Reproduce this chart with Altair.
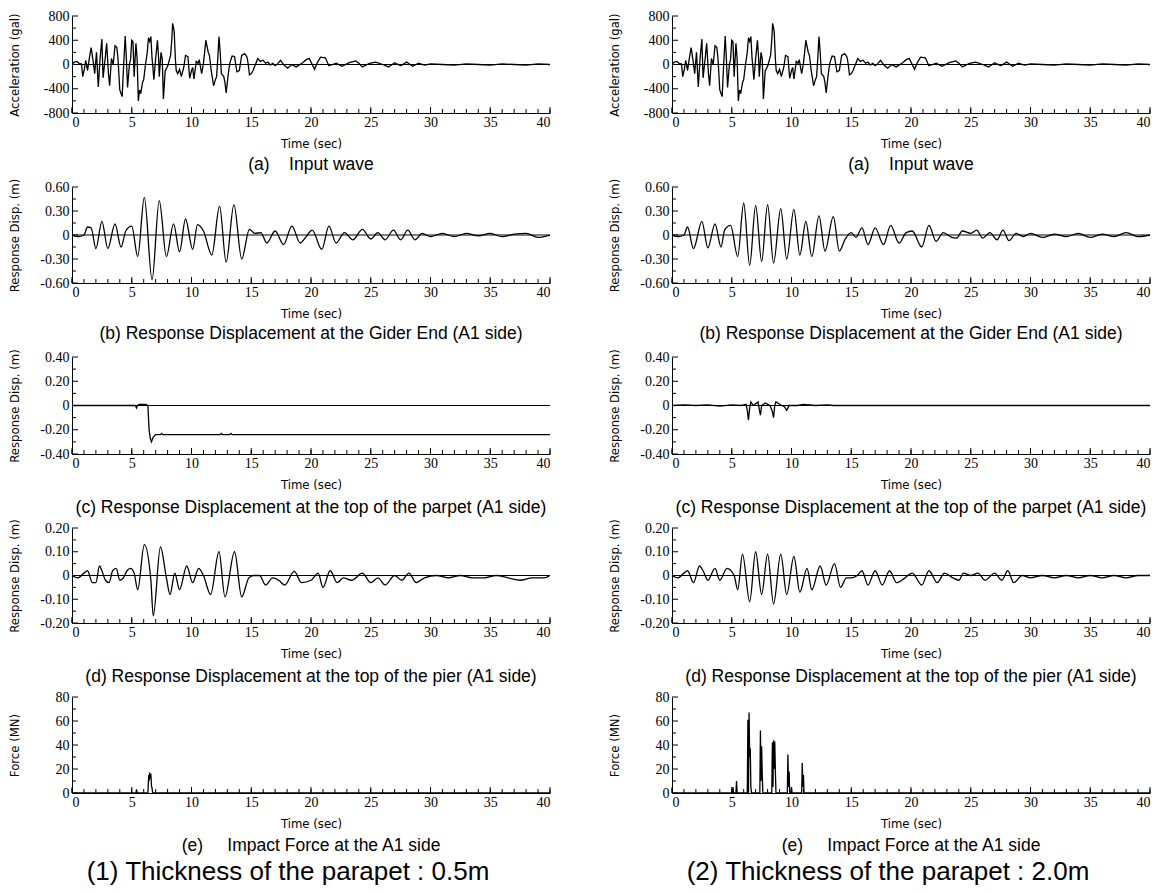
import altair as alt
import pandas as pd
import numpy as np

# ---------------- data ----------------
ACC_T = [0.0, 0.2, 0.4, 0.6, 0.8, 0.9, 1.05, 1.15, 1.3, 1.45, 1.6, 1.75, 1.9, 2.05, 2.2, 2.35, 2.5, 2.6, 2.75,
         2.9, 3.05, 3.15, 3.3, 3.45, 3.6, 3.75, 3.85, 4.0, 4.2, 4.3, 4.45, 4.55, 4.65, 4.8, 4.9, 5.0, 5.1, 5.2,
         5.35, 5.45, 5.55, 5.65, 5.75, 5.9, 6.0, 6.15, 6.3, 6.4, 6.5, 6.6, 6.7, 6.75, 6.85, 7.0, 7.15, 7.25, 7.3,
         7.45, 7.55, 7.65, 7.8, 7.95, 8.05, 8.25, 8.35, 8.42, 8.55, 8.65, 8.72, 8.85, 9.0, 9.15, 9.35, 9.5, 9.7,
         9.85, 10.0, 10.1, 10.2, 10.4, 10.55, 10.65, 10.85, 11.0, 11.15, 11.2, 11.4, 11.5, 11.65, 11.85, 12.0,
         12.1, 12.2, 12.3, 12.4, 12.5, 12.7, 12.8, 12.9, 13.05, 13.2, 13.4, 13.6, 13.7, 13.8, 14.0, 14.2, 14.45,
         14.65, 14.75, 14.85, 15.0, 15.15, 15.35, 15.55, 15.75, 16.0, 16.2, 16.4, 16.6, 16.8, 17.0, 17.2, 17.45,
         17.7, 18.05, 18.4, 18.75, 19.0, 19.3, 19.6, 19.85, 20.1, 20.3, 20.55, 20.8, 21.2, 21.5, 21.8, 22.1,
         22.6, 23.2, 23.75, 24.0, 24.3, 24.9, 25.4, 26.0, 26.5, 27.0, 27.5, 28.0, 28.5, 29.0, 29.5, 30.0, 31.0,
         32.0, 33.0, 34.0, 35.0, 36.0, 37.0, 38.0, 39.0, 40.0]
ACC_V = [0, 40, 50, 20, 10, -200, -60, 70, -100, 100, 280, 80, -150, 200, -370, 100, 420, -220, 50,
         350, -150, -350, 100, 0, 310, 280, 100, -420, -530, -100, 470, 100, -380, 0, 80, 400, 380, -200,
         350, 100, -600, -420, -480, -300, -250, 0, 200, 440, 380, 460, 100, 0, -250, 100, 400, 100, -200,
         200, 100, -570, -100, -50, 0, 150, 400, 680, 550, 100, -100, -150, -80, -200, -50, 150, 130,
         -230, -100, -50, -240, 50, 20, 80, -150, 20, 300, 400, 200, 150, -100, -350, -250,
         -200, 100, 460, 200, -150, -200, -300, -470, -200, 20, 140, 130, 0, -120, -100, 150, 180,
         120, 0, -170, -150, -100, 0, 100, 50, 70, 20, 40, -10, 20, -20, 10, 70,
         0, -60, 0, -40, -10, 30, 80, 100, 0, -80, 40, 120, 110, -20, 0, 20,
         -30, 30, 60, 20, -40, 20, 40, 0, -40, 30, -20, 40, -30, 20, -10, 10, 0,
         -10, 10, 0, -10, 10, 0, -10, 10, 0]

GIRDER_L_T = [0, 0.5, 1.0, 1.3, 1.6, 2.0, 2.5, 3.0, 3.6, 4.1, 4.5, 5.0, 5.5, 6.05, 6.7, 7.3, 7.9, 8.5, 9.0,
              9.5, 10.1, 10.5, 11.0, 11.7, 12.35, 12.9, 13.55, 14.2, 14.85, 15.3, 15.8, 16.3, 17.0, 17.7,
              18.4, 19.1, 19.6, 20.1, 20.9, 21.5, 22.1, 22.8, 23.5, 24.3, 25.0, 25.6, 26.2, 26.9, 27.5,
              28.1, 28.7, 29.3, 30.0, 31.0, 32.0, 33.0, 34.0, 35.0, 36.0, 37.0, 38.0, 39.0, 40.0]
GIRDER_L_V = [0, -0.02, 0.0, 0.10, 0.09, -0.17, 0.17, -0.17, 0.14, -0.15, 0.05, 0.11, -0.27, 0.47, -0.56,
              0.43, -0.27, 0.14, -0.21, 0.20, -0.18, 0.13, 0.05, -0.25, 0.36, -0.34, 0.38, -0.30, 0.07,
              0.02, 0.03, -0.10, 0.05, -0.12, 0.11, -0.10, -0.02, 0.06, -0.18, 0.11, -0.10, 0.03, -0.06,
              0.07, -0.05, 0.03, -0.06, 0.06, -0.06, 0.06, -0.06, 0.02, -0.02, 0.02, -0.02, 0.02, -0.01,
              0.02, -0.02, 0.01, 0.02, -0.03, 0.0]

GIRDER_R_T = [0, 0.5, 1.0, 1.3, 1.8, 2.5, 3.0, 3.6, 4.1, 4.4, 4.9, 5.5, 6.0, 6.5, 7.0, 7.5, 8.0, 8.5, 9.1,
              9.6, 10.2, 10.7, 11.2, 11.7, 12.3, 12.8, 13.5, 14.0, 14.5, 15.0, 15.4, 15.9, 16.4, 17.0,
              17.7, 18.3, 19.0, 19.6, 20.1, 20.9, 21.5, 22.1, 22.7, 23.4, 23.8, 24.3, 25.0, 25.5, 26.0,
              26.6, 27.2, 27.7, 28.2, 28.8, 29.4, 30.0, 31.0, 32.0, 33.0, 34.0, 35.0, 36.0, 37.0, 38.0,
              39.0, 40.0]
GIRDER_R_V = [0, -0.02, 0, 0.10, -0.17, 0.17, -0.16, 0.14, -0.15, 0.06, 0.12, -0.27, 0.40, -0.38, 0.37,
              -0.33, 0.38, -0.35, 0.33, -0.30, 0.32, -0.25, 0.17, -0.27, 0.24, -0.20, 0.23, -0.20, -0.05,
              0.03, -0.03, 0.09, -0.12, 0.09, -0.12, 0.12, -0.10, 0.03, 0.05, -0.15, 0.12, -0.08, 0.03,
              -0.03, -0.04, 0.05, 0.02, 0.06, -0.04, 0.03, -0.06, 0.06, -0.07, 0.02, -0.02, 0.02, -0.03,
              0.01, -0.02, 0.02, -0.03, 0.01, -0.02, 0.03, -0.02, 0.0]

PARAPET_L_T = [0, 5.3, 5.4, 5.5, 5.6, 6.2, 6.35, 6.45, 6.55, 6.65, 6.8, 7.0, 7.4, 7.5, 7.6, 12.4, 12.5,
               12.6, 13.2, 13.3, 13.4, 40]
PARAPET_L_V = [0, 0, -0.02, 0.0, 0.01, 0.01, 0.0, -0.20, -0.27, -0.30, -0.26, -0.24, -0.24, -0.23,
               -0.24, -0.24, -0.23, -0.24, -0.24, -0.23, -0.24, -0.24]

PARAPET_R_T = [0, 1.0, 2.0, 3.0, 4.0, 5.0, 5.8, 6.2, 6.3, 6.4, 6.5, 6.6, 6.8, 7.2, 7.3, 7.4, 7.5, 7.8,
               8.2, 8.4, 8.5, 8.6, 8.7, 9.0, 9.4, 9.6, 9.8, 10.5, 11.0, 12.0, 13.0, 13.5, 40]
PARAPET_R_V = [0, 0.005, 0.0, 0.005, -0.005, 0.005, 0.0, 0.01, -0.04, -0.12, -0.02, 0.03, 0.0, 0.03,
               -0.03, -0.08, 0.0, 0.02, 0.0, -0.05, -0.10, 0.0, 0.03, 0.01, -0.01, -0.04, 0.0, 0.0,
               0.01, 0.0, 0.005, 0.0, 0]

PIER_L_T = [0, 0.5, 1.0, 1.3, 1.7, 2.0, 2.3, 2.5, 2.8, 3.1, 3.4, 3.7, 4.0, 4.3, 4.6, 4.9, 5.2, 5.5, 6.05,
            6.6, 6.8, 7.4, 7.9, 8.2, 8.6, 9.0, 9.6, 10.1, 10.6, 11.0, 11.6, 12.3, 12.8, 13.6, 14.2, 14.8,
            15.2, 15.7, 16.2, 16.8, 17.3, 17.8, 18.6, 19.2, 20.0, 20.6, 21.0, 21.6, 22.2, 22.7, 23.4,
            24.3, 25.0, 25.6, 26.2, 27.0, 27.6, 28.2, 28.8, 29.5, 30.5, 31.5, 32.5, 33.5, 34.5, 35.5,
            36.5, 37.5, 38.5, 39.5, 40.0]
PIER_L_V = [0, -0.01, 0.01, 0.02, -0.03, -0.03, 0.04, 0.02, -0.02, -0.03, 0.02, 0.03, -0.02, -0.01,
            0.02, 0.03, 0.01, -0.06, 0.13, -0.02, -0.17, 0.12, -0.01, -0.08, 0.01, -0.06, 0.04, -0.03,
            0.03, 0.0, -0.08, 0.10, -0.09, 0.10, -0.09, -0.01, 0.0, 0.0, -0.04, -0.01, -0.02, -0.04,
            0.017, -0.03, -0.02, 0.01, -0.05, 0.02, -0.03, -0.01, -0.02, 0.01, -0.03, -0.01, -0.04,
            0.0, -0.02, 0.01, -0.03, -0.01, 0.0, -0.01, 0.0, -0.01, -0.01, 0.0, -0.01, -0.02, -0.01,
            -0.01, 0.0]

PIER_R_T = [0, 0.5, 1.0, 1.3, 1.8, 2.3, 2.6, 3.0, 3.6, 4.0, 4.6, 5.2, 5.5, 5.9, 6.5, 7.0, 7.5, 8.0, 8.5,
            9.1, 9.6, 10.2, 10.7, 11.3, 11.7, 12.4, 12.9, 13.6, 14.1, 14.6, 15.0, 15.5, 15.9, 16.4, 17.0,
            17.6, 18.2, 18.8, 19.5, 20.1, 20.9, 21.5, 22.2, 22.8, 23.5, 24.0, 24.4, 25.0, 25.6, 26.2,
            27.0, 27.6, 28.1, 28.6, 29.3, 30.0, 31.0, 32.0, 33.0, 34.0, 35.0, 36.0, 37.0, 38.0, 39.0, 40.0]
PIER_R_V = [0, -0.01, 0.01, 0.02, -0.03, 0.04, 0.02, -0.02, 0.03, -0.02, 0.03, 0.0, -0.06, 0.09, -0.11,
            0.10, -0.08, 0.09, -0.12, 0.09, -0.08, 0.08, -0.07, 0.03, -0.06, 0.04, -0.04, 0.05, -0.05,
            -0.01, -0.01, 0.0, 0.02, -0.04, 0.02, -0.04, 0.02, -0.03, -0.01, 0.01, -0.04, 0.02, -0.03,
            0.01, -0.01, -0.02, 0.01, 0.0, 0.01, -0.02, 0.01, -0.02, 0.02, -0.03, 0.0, -0.01, 0.0,
            -0.01, 0.0, -0.01, 0.0, -0.01, 0.0, -0.01, 0.0, 0.0]

FORCE_L_T = [0, 5.35, 5.4, 5.45, 6.35, 6.42, 6.45, 6.5, 6.55, 6.6, 6.65, 6.7, 6.75, 6.8, 40]
FORCE_L_V = [0, 0, 3, 0, 0, 15, 10, 17, 12, 16, 6, 4, 0, 0, 0]

FORCE_R_T = [0, 5.05, 5.1, 5.15, 5.35, 5.4, 5.45, 6.3, 6.35, 6.4, 6.45, 6.5, 6.55, 6.6, 6.65, 6.7, 7.35,
             7.4, 7.45, 7.5, 7.55, 7.6, 7.65, 8.35, 8.4, 8.45, 8.5, 8.55, 8.6, 8.65, 8.7, 8.75, 9.65, 9.7,
             9.75, 9.8, 9.85, 9.95, 10.0, 10.05, 10.85, 10.9, 10.95, 11.0, 11.05, 40]
FORCE_R_V = [0, 0, 5, 0, 0, 10, 0, 0, 61, 0, 67, 30, 37, 5, 0, 0, 0, 52, 10, 39, 17, 0, 0, 0, 42, 5, 44,
             20, 43, 18, 0, 0, 0, 32, 5, 18, 0, 0, 5, 0, 0, 25, 5, 15, 0, 0]

X_LABELS = [0, 5, 10, 15, 20, 25, 30, 35, 40]
X_MINOR = list(range(0, 41))

NB = "\u00a0"
CAP_A = "(a)" + NB * 4 + "Input wave"
CAP_B = "(b) Response Displacement at the Gider End (A1 side)"
CAP_C = "(c) Response Displacement at the top of the parpet (A1 side)"
CAP_D = "(d) Response Displacement at the top of the pier (A1 side)"
CAP_E = "(e)" + NB * 5 + "Impact Force at the A1 side"
BIG_L = "(1) Thickness of the parapet : 0.5m"
BIG_R = "(2) Thickness of the parapet : 2.0m"

ACC_LAB = [-800, -400, 0, 400, 800]
ACC_MIN = [-600, -200, 200, 600]
GIR_LAB = [-0.6, -0.3, 0, 0.3, 0.6]
GIR_MIN = [-0.45, -0.15, 0.15, 0.45]
PAR_LAB = [-0.4, -0.2, 0, 0.2, 0.4]
PAR_MIN = [-0.3, -0.1, 0.1, 0.3]
PIE_LAB = [-0.2, -0.1, 0, 0.1, 0.2]
PIE_MIN = [-0.15, -0.05, 0.05, 0.15]
FOR_LAB = [0, 20, 40, 60, 80]
FOR_MIN = [10, 30, 50, 70]

# ---------------- styling ----------------
W = 478
H = [97, 96, 97, 95, 96]
CAP_DY = [52, 51, 54, 54, 53]
SERIF = "Times New Roman"
COND = "DejaVu Sans Condensed"
SANS = "Liberation Sans"


def panel(t, v, ylim, ylabels, yminor, fmt, ytitle, caption, h, cap_dy, big=None, zero=True, interp="linear"):
    df = pd.DataFrame({"t": t, "v": v})
    if fmt == "d":
        lexpr = "datum.value == 0 ? '0' : (datum.value < 0 ? '-' : '') + format(abs(datum.value), 'd')"
    else:
        lexpr = "datum.value == 0 ? '0' : (datum.value < 0 ? '-' : '') + format(abs(datum.value), '.2f')"
    xs = alt.Scale(domain=[0, 40], nice=False, zero=False)
    ys = alt.Scale(domain=ylim, nice=False, zero=False)
    common = dict(labelFont=SERIF, labelFontSize=14, labelColor="black", titleFont=COND,
                  titleFontSize=13, titleFontWeight="normal", titleColor="black",
                  domainColor="black", domainWidth=1, ticks=False, grid=False)
    xax = alt.Axis(values=X_LABELS, title="Time (sec)", titleY=24, titleBaseline="top", labelPadding=2,
                   **common)
    yax = alt.Axis(values=ylabels, labelExpr=lexpr, title=ytitle, titleX=-51, titleY=h / 2,
                   titleAngle=270, titleBaseline="bottom", titleAlign="center", labelPadding=3, **common)
    X = lambda: alt.X("t:Q", scale=xs, axis=xax)
    Y = lambda: alt.Y("v:Q", scale=ys, axis=yax)

    layers = [alt.Chart(df).mark_line(color="black", strokeWidth=1.3, interpolate=interp, clip=True)
              .encode(x=X(), y=Y())]
    if zero:
        layers.append(alt.Chart(pd.DataFrame({"v": [0]})).mark_rule(color="black", strokeWidth=1)
                      .encode(y=Y()))
    layers.append(alt.Chart(pd.DataFrame({"t": X_MINOR})).mark_rule(color="black", strokeWidth=1)
                  .encode(x=X(), y=alt.value(h), y2=alt.value(h - 4)))
    layers.append(alt.Chart(pd.DataFrame({"t": X_LABELS})).mark_rule(color="black", strokeWidth=1)
                  .encode(x=X(), y=alt.value(h), y2=alt.value(h - 6)))
    layers.append(alt.Chart(pd.DataFrame({"v": yminor})).mark_rule(color="black", strokeWidth=1)
                  .encode(y=Y(), x=alt.value(0), x2=alt.value(4)))
    layers.append(alt.Chart(pd.DataFrame({"v": ylabels})).mark_rule(color="black", strokeWidth=1)
                  .encode(y=Y(), x=alt.value(0), x2=alt.value(6)))
    layers.append(alt.Chart(pd.DataFrame({"c": [caption]}))
                  .mark_text(font=SANS, fontSize=17.5, align="center", baseline="middle", color="black")
                  .encode(text="c:N", x=alt.value(W / 2), y=alt.value(h + cap_dy)))
    if big:
        layers.append(alt.Chart(pd.DataFrame({"c": [big]}))
                      .mark_text(font=SANS, fontSize=26, align="center", baseline="middle", color="black")
                      .encode(text="c:N", x=alt.value(W / 2 - 23), y=alt.value(h + 79)))
    return alt.layer(*layers).properties(width=W, height=h)


rows = [
    (ACC_T, ACC_V, ACC_T, ACC_V, [-800, 800], ACC_LAB, ACC_MIN, "d", "Acceleration (gal)", CAP_A, "linear", True),
    (GIRDER_L_T, GIRDER_L_V, GIRDER_R_T, GIRDER_R_V, [-0.6, 0.6], GIR_LAB, GIR_MIN, "f", "Response Disp. (m)", CAP_B, "monotone", True),
    (PARAPET_L_T, PARAPET_L_V, PARAPET_R_T, PARAPET_R_V, [-0.4, 0.4], PAR_LAB, PAR_MIN, "f", "Response Disp. (m)", CAP_C, "linear", True),
    (PIER_L_T, PIER_L_V, PIER_R_T, PIER_R_V, [-0.2, 0.2], PIE_LAB, PIE_MIN, "f", "Response Disp. (m)", CAP_D, "monotone", True),
    (FORCE_L_T, FORCE_L_V, FORCE_R_T, FORCE_R_V, [0, 80], FOR_LAB, FOR_MIN, "d", "Force (MN)", CAP_E, "linear", False),
]
panels = []
for i, (lt, lv, rt, rv, lim, lab, mn, fmt, yt, cap, interp, zero) in enumerate(rows):
    bl = BIG_L if i == 4 else None
    br = BIG_R if i == 4 else None
    panels.append(panel(lt, lv, lim, lab, mn, fmt, yt, cap, H[i], CAP_DY[i], big=bl, zero=zero, interp=interp))
    panels.append(panel(rt, rv, lim, lab, mn, fmt, yt, cap, H[i], CAP_DY[i], big=br, zero=zero, interp=interp))

chart = alt.concat(*panels, columns=2, spacing={"row": 74, "column": 122}, bounds="flush").properties(
    padding={"left": 0, "top": 1, "right": 5, "bottom": 5}
).configure_view(stroke=None)

chart.save("out.html", embed_options={"renderer": "svg", "actions": False})
